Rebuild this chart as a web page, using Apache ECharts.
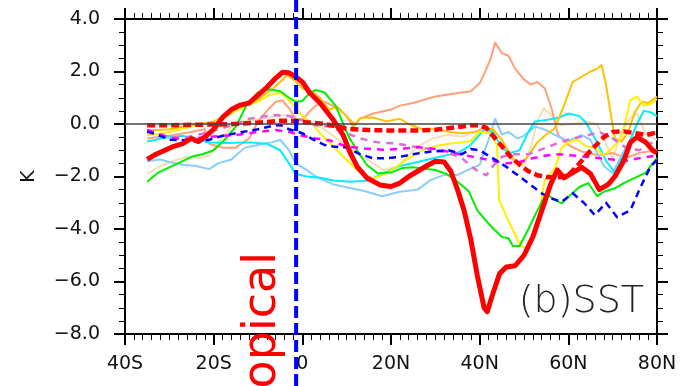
<!DOCTYPE html>
<html><head><meta charset="utf-8">
<script src="https://cdn.jsdelivr.net/npm/echarts@6/dist/echarts.min.js"></script>
<style>html,body{margin:0;padding:0;background:#fff}#c{width:684px;height:386px}</style>
</head><body><div id="c"></div><script>
// ---- data: [latitude, K] ----
const xTicks = [-40, -20, 0, 20, 40, 60, 80];
const yTicks = [-8, -6, -4, -2, 0, 2, 4];
const redSolid = [[-35,-1.35],[-33,-1.15],[-31,-1.0],[-29,-0.85],[-27,-0.75],[-25,-0.55],[-23.5,-0.67],[-22,-0.5],[-20,-0.2],[-18,0.25],[-16,0.55],[-14,0.72],[-12,0.8],[-10,1.1],[-8,1.4],[-6,1.75],[-4.5,1.97],[-3,1.95],[-1.5,1.8],[0,1.6],[1.7,1.18],[4,0.8],[7,0.15],[9.2,-0.42],[10.8,-1.1],[12.4,-1.63],[14.6,-2.06],[17.5,-2.32],[20,-2.38],[22,-2.25],[24,-2.0],[26,-1.8],[28,-1.6],[30,-1.42],[32,-1.45],[33.5,-1.8],[35,-2.5],[36.5,-3.3],[38,-4.4],[39.5,-5.8],[41,-7.0],[41.7,-7.15],[43,-6.45],[44.5,-5.7],[46,-5.45],[48,-5.4],[50,-5.0],[52,-4.3],[54,-3.3],[56,-2.3],[57.5,-1.75],[59,-2.05],[61,-1.85],[63,-1.65],[65,-1.9],[67,-2.5],[69,-2.3],[70.5,-2.0],[72.5,-1.4],[74,-0.7],[75.5,-0.5],[77.5,-0.7],[79,-1.0],[80,-1.1]];
const redDash = [[-35,-0.05],[-30,-0.05],[-25,-0.03],[-20,-0.02],[-15,0.0],[-10,0.05],[-5,0.12],[-2,0.12],[0,0.08],[5,0.0],[8,-0.1],[10,-0.18],[15,-0.23],[20,-0.25],[25,-0.25],[30,-0.22],[35,-0.12],[38,-0.05],[40,-0.05],[41.5,-0.15],[43,-0.45],[45,-0.85],[47,-1.25],[49,-1.55],[51,-1.8],[53,-1.95],[55,-2.02],[57.5,-2.05],[60,-1.95],[62,-1.6],[64,-1.2],[66,-0.85],[68,-0.5],[70,-0.3],[72.5,-0.28],[75,-0.35],[77.5,-0.42],[80,-0.32]];
const green = [[-35,-2.2],[-32.5,-1.85],[-30,-1.65],[-27.5,-1.45],[-25,-1.25],[-22.5,-1.15],[-20,-1.0],[-17.5,-0.6],[-15,-0.1],[-12.5,0.75],[-10,1.2],[-7.5,1.32],[-5,1.25],[-3,1.0],[-1.5,0.85],[0,0.88],[1.5,1.15],[3,1.3],[5,1.2],[7.5,0.7],[9,0.1],[10.5,-0.5],[12.5,-1.05],[14.5,-1.55],[17,-1.88],[20,-1.85],[22.5,-1.68],[25,-1.65],[27.5,-1.7],[30,-1.75],[32.5,-1.9],[35,-2.2],[37.5,-2.55],[39.5,-3.3],[41.5,-3.7],[43,-3.97],[45,-4.3],[46.5,-4.35],[47.5,-4.65],[49,-4.65],[51,-4.0],[53,-3.3],[55,-2.65],[56.5,-2.85],[58.5,-3.02],[60.5,-2.7],[62.5,-2.4],[64.5,-2.25],[66.5,-2.75],[68,-2.58],[70.5,-2.45],[72.5,-2.25],[75,-2.05],[77.5,-1.85],[79,-1.5],[80,-1.3]];
const yellow = [[-35,-0.42],[-32.5,-0.38],[-30,-0.3],[-27.5,-0.2],[-25,-0.1],[-22.5,0.0],[-20,0.05],[-17.5,0.25],[-15,0.5],[-12.5,0.7],[-10,0.85],[-7.5,1.1],[-5,1.2],[-3.5,1.0],[-2,0.7],[0,0.3],[2,0.05],[4,-0.35],[7,-0.86],[10,-1.37],[13,-1.85],[16,-2.07],[19,-1.88],[22,-1.55],[24,-1.3],[27,-1.0],[30,-0.85],[33,-0.75],[36,-0.7],[38,-0.65],[40,-0.3],[42.3,-0.35],[43.9,-0.8],[44.4,-2.9],[46.2,-3.58],[49.1,-4.6],[50.9,-4.8],[52.9,-3.85],[54.7,-2.13],[57,-1.68],[58.5,-0.9],[60,-0.7],[62,-0.6],[64,-0.85],[66,-0.9],[68,-1.2],[70,-0.9],[72,-0.5],[74,0.9],[75.5,1.05],[77,0.7],[78.5,0.75],[80,0.95]];
const gold = [[-35,-0.25],[-30,-0.2],[-25,-0.05],[-20,0.1],[-15,0.5],[-10,0.95],[-7,1.3],[-5,1.6],[-3.5,1.85],[-2,1.7],[0,1.35],[2,1.25],[4,1.0],[6,0.55],[8,0.65],[10,0.28],[12,-0.04],[13,0.23],[16,0.25],[19,0.1],[22,0.2],[24,0.0],[27,-0.2],[30,-0.2],[33,-0.3],[36,-0.35],[39,-0.3],[41,-0.15],[43,-0.2],[45,-0.6],[47,-1.2],[49,-1.6],[51,-1.2],[53,-0.7],[55,-0.4],[57,-0.15],[59,0.7],[61,1.6],[63,1.8],[65,2.0],[66.5,2.1],[67.5,2.25],[68.5,1.5],[69.5,0.45],[70.5,-0.55],[72,-0.67],[73.5,-0.3],[75,0.45],[76.5,0.85],[78,0.8],[80,1.05]];
const salmon = [[-35,-0.55],[-30,-0.45],[-25,-0.3],[-22,-0.2],[-21,-0.75],[-18,-0.9],[-15,-0.9],[-12,-0.55],[-10,0.1],[-8,0.5],[-6,0.85],[-4.5,0.9],[-3,0.6],[-1.5,0.2],[0,0.15],[1.5,0.45],[3,0.7],[5,0.85],[8,0.6],[10,0.3],[11.5,-0.1],[13,0.2],[16,0.4],[20,0.55],[22,0.7],[25,0.8],[28,0.95],[30,1.05],[34,1.15],[38,1.25],[40,1.55],[41,1.9],[42.5,2.5],[43.5,3.1],[45,2.7],[46.5,2.6],[48,2.1],[50,1.7],[51.5,1.5],[53,1.6],[54.7,1.36],[56.2,0.6],[57.7,-0.42],[60,-0.8],[63,-1.05],[67,-1.2],[70,-1.1],[73,-1.3],[76,-1.1],[80,-1.0]];
const wheat = [[-35,-1.9],[-32,-1.6],[-29,-1.4],[-26,-1.25],[-23,-1.3],[-21,-1.2],[-19,-0.7],[-17,-0.3],[-15,0.05],[-12,0.12],[-9,0.2],[-6,0.3],[-3,0.35],[0,0.1],[4,-0.1],[7,-0.45],[10,-0.85],[13,-1.18],[16,-1.5],[18.2,-1.75],[21.3,-1.63],[24,-1.2],[25.8,-0.86],[29.5,-0.55],[32.6,-0.42],[36.2,-0.48],[39.3,-0.29],[42,-0.3],[44,-0.6],[46,-1.1],[48,-1.5],[50,-1.6],[51.5,-0.9],[53,0.1],[54.5,0.6],[56,0.35],[58,-0.05],[61,0.0],[64,0.1],[66.5,0.0],[68,-0.6],[70,-1.3],[72,-0.3],[74,0.25],[75.5,0.4],[77.5,-0.4],[80,-0.6]];
const cyan = [[-35,-0.67],[-30,-0.5],[-27,-0.45],[-24,-0.6],[-21,-0.7],[-17,-0.72],[-12,-0.7],[-8,-0.75],[-5,-1.0],[-3,-1.5],[-1.5,-1.9],[1,-2.0],[4,-2.05],[7,-2.15],[11,-2.2],[15,-2.15],[18,-1.9],[22,-1.6],[26,-1.45],[31,-1.25],[35,-1.1],[37.5,-0.86],[39,-0.6],[41,-0.2],[43,-0.3],[45,-0.9],[47,-1.1],[49,-1.0],[51,-0.3],[52.5,0.1],[55,0.15],[58,0.25],[60,0.4],[62.5,0.3],[64,0.05],[66.5,-0.7],[68.5,-1.4],[70.5,-1.85],[73,-1.0],[75.5,0.0],[77,0.5],[78.5,0.45],[80,0.3]];
const skyblue = [[-35,-1.42],[-32,-1.35],[-30,-1.45],[-27,-1.55],[-24,-1.6],[-21,-1.72],[-19,-1.5],[-16,-1.35],[-13,-0.9],[-10,-0.8],[-7,-0.7],[-5,-0.6],[-3,-1.0],[-1.5,-1.5],[1,-1.75],[3,-2.0],[7,-2.3],[11,-2.45],[14,-2.55],[18,-2.75],[22,-2.58],[26,-2.5],[29,-2.13],[32,-1.94],[35,-1.94],[38,-1.7],[40,-1.56],[42,-0.6],[43.5,0.2],[45,-0.4],[46.5,-0.3],[48.5,-0.55],[50,-0.45],[52.5,-0.1],[54.5,-0.2],[57,-0.42],[60,-0.65],[63,-0.42],[65,-0.6],[66.5,-1.1],[68,-1.6],[70,-1.88],[72,-1.2],[74,-0.6],[76,-0.45],[78,-0.9],[80,-1.0]];
const blueDash = [[-35,-0.29],[-32.5,-0.42],[-30,-0.6],[-27,-0.62],[-24,-0.67],[-21,-0.6],[-18,-0.45],[-14,-0.32],[-10,-0.2],[-7,-0.08],[-5,-0.04],[-3,-0.2],[0,-0.35],[2,-0.55],[5,-0.8],[7,-0.86],[10,-0.9],[13,-1.15],[16,-1.31],[19,-1.3],[22,-1.25],[26,-1.12],[29,-1.05],[33,-1.0],[36,-1.15],[38,-0.95],[40,-1.0],[43,-1.31],[46,-1.63],[49,-2.0],[51,-2.26],[54,-2.64],[56,-2.83],[58.5,-2.96],[61,-2.64],[63.5,-3.0],[66,-3.47],[68.5,-3.0],[71,-3.55],[74,-3.28],[76,-2.51],[78.5,-1.63],[80,-1.37]];
const magentaDash = [[-35,-0.22],[-32,-0.4],[-29,-0.55],[-26,-0.58],[-22,-0.5],[-18,-0.45],[-14,-0.4],[-10,-0.3],[-6,-0.23],[-3,-0.3],[0,-0.45],[3,-0.55],[6,-0.62],[10,-0.86],[14,-0.93],[18,-0.98],[22,-0.95],[26,-0.88],[30,-0.95],[34,-1.1],[37,-1.2],[40,-1.3],[43,-1.4],[46,-1.5],[49,-1.45],[52,-1.3],[55,-1.2],[58,-1.15],[61,-1.2],[64,-1.25],[67,-1.3],[70,-1.35],[73,-1.4],[76,-1.3],[80,-1.2]];
const orchidDash = [[-35,-0.3],[-32,-0.45],[-29,-0.5],[-26,-0.5],[-22,-0.35],[-18,-0.15],[-15,0.0],[-12,0.2],[-9,0.28],[-6,0.34],[-3,0.3],[0,0.15],[3,-0.05],[6,-0.1],[10,-0.35],[13,-0.55],[17,-0.7],[21,-0.74],[25,-0.86],[29,-0.95],[33,-1.1],[36,-1.3],[38,-1.6],[40,-1.85],[41.5,-1.95],[43,-1.6],[45,-1.25],[48,-1.15],[51,-1.15],[55,-0.9],[58,-0.7],[61,-0.55],[64,-0.45],[67,-0.3],[70,-0.55],[73,-0.9],[76,-1.0],[80,-0.6]];
const markerLat = -1.4;
const panelLabel = '(b)SST';
const sideLabel = 'Tropical';

const FONT = 'DejaVu Sans';
function latFmt(v){ if (v===0) return '0'; return v<0 ? (-v)+'S' : v+'N'; }
function kFmt(v){ const s = Math.abs(v).toFixed(1); return v<0 ? '\u2212'+s : s; }

const chart = echarts.init(document.getElementById('c'), null, {renderer:'canvas'});
const axisCommon = {
  axisLine:{show:true, onZero:false, lineStyle:{color:'#000', width:2}},
  axisTick:{show:true, inside:false, length:11, lineStyle:{color:'#000', width:2}},
  splitLine:{show:false}
};
function line(name, data, color, width, type, z){
  return {name, type:'line', data, showSymbol:false, symbol:'none', z:z||2, animation:false,
    lineStyle:{color, width, type:type||'solid', cap:'butt', join:'round'}};
}
const series = [
  line('wheat', wheat, '#F5DEB3', 2),
  line('salmon', salmon, '#FFA07A', 2),
  line('skyblue', skyblue, '#87CEFA', 2),
  line('cyan', cyan, '#00EEFF', 2),
  line('gold', gold, '#FFC000', 2),
  line('yellow', yellow, '#FFF000', 2),
  line('green', green, '#00EE00', 2),
  line('orchid', orchidDash, '#DA70D6', 2.5, [7,6]),
  line('magenta', magentaDash, '#FF00FF', 2.5, [7,6]),
  line('blue', blueDash, '#0000FF', 2.5, [7,5]),
  line('redDash', redDash, '#FF0000', 4.5, [8,4], 3),
  line('red', redSolid, '#FF0000', 5, 'solid', 4)
];
series[0].markLine = {silent:true, symbol:'none', label:{show:false}, animation:false,
  lineStyle:{color:'#444', width:1.5, type:'solid'}, data:[{yAxis:0}]};

chart.setOption({
  animation:false,
  backgroundColor:'#fff',
  grid:{left:125, right:27, top:19, bottom:52},
  xAxis:[
    Object.assign({type:'value', min:xTicks[0], max:xTicks[xTicks.length-1], interval:20, position:'bottom',
      minorTick:{show:true, splitNumber:10, length:6, lineStyle:{color:'#000', width:1}},
      axisLabel:{formatter:latFmt, fontSize:19, color:'#111', margin:21, fontFamily:FONT}}, axisCommon),
    Object.assign({type:'value', min:xTicks[0], max:xTicks[xTicks.length-1], interval:20, position:'top',
      minorTick:{show:true, splitNumber:10, length:6, lineStyle:{color:'#000', width:1}},
      axisLabel:{show:false}}, axisCommon)
  ],
  yAxis:[
    Object.assign({type:'value', min:yTicks[0], max:yTicks[yTicks.length-1], interval:2, position:'left',
      minorTick:{show:true, splitNumber:4, length:6, lineStyle:{color:'#000', width:1}},
      name:'K', nameLocation:'middle', nameRotate:90, nameGap:86,
      nameTextStyle:{fontSize:19, color:'#111', fontFamily:FONT},
      axisLabel:{formatter:kFmt, fontSize:19, color:'#111', margin:25, fontFamily:FONT}}, axisCommon),
    Object.assign({type:'value', min:yTicks[0], max:yTicks[yTicks.length-1], interval:2, position:'right',
      minorTick:{show:true, splitNumber:4, length:6, lineStyle:{color:'#000', width:1}},
      axisLabel:{show:false}}, axisCommon)
  ],
  series
});

const xm = chart.convertToPixel({xAxisIndex:0}, markerLat);
chart.setOption({graphic:[
  {type:'line', z:50, silent:true, shape:{x1:xm, y1:0, x2:xm, y2:386},
    style:{stroke:'#0000FF', lineWidth:4, lineDash:[12,5]}},
  {type:'text', z:40, silent:true, x:286, y:252, rotation:Math.PI/2,
    style:{text:sideLabel, fill:'#FF0000', font:'46px "DejaVu Sans"', align:'right', verticalAlign:'bottom'}},
  {type:'text', z:40, silent:true, x:644, y:321,
    style:{text:panelLabel, fill:'#222', font:'200 38px "DejaVu Sans"', align:'right', verticalAlign:'bottom'}}
]});
</script></body></html>
